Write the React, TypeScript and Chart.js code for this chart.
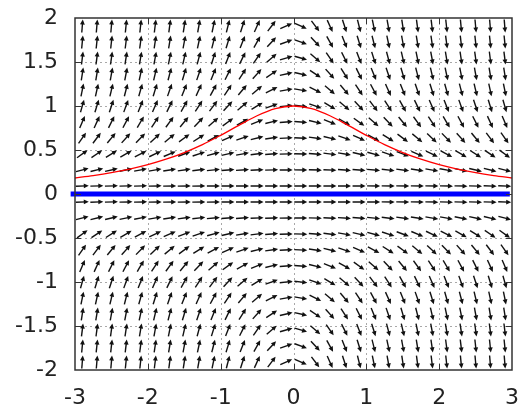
import { useEffect, useRef } from "react";
import { Chart, registerables } from "chart.js";

Chart.register(...registerables);

// Axis ranges and tick values
const xRange = [-3, 3];
const yRange = [-2, 2];
const xTickValues = [-3, -2, -1, 0, 1, 2, 3];
const yTickValues = [-2, -1.5, -1, -0.5, 0, 0.5, 1, 1.5, 2];
const xGridValues = [-2, -1, 0, 1, 2];
const yGridValues = [-1.5, -1, -0.5, 0, 0.5, 1, 1.5];

// Sample points of the direction field dy/dx = -x * y^2
const fieldX = [
  -2.9, -2.7, -2.5, -2.3, -2.1, -1.9, -1.7, -1.5, -1.3, -1.1,
  -0.9, -0.7, -0.5, -0.3, -0.1, 0.1, 0.3, 0.5, 0.7, 0.9,
  1.1, 1.3, 1.5, 1.7, 1.9, 2.1, 2.3, 2.5, 2.7, 2.9,
];
const fieldY = [
  -1.909, -1.727, -1.545, -1.364, -1.182, -1.0, -0.818, -0.636, -0.455, -0.273, -0.091,
  0.091, 0.273, 0.455, 0.636, 0.818, 1.0, 1.182, 1.364, 1.545, 1.727, 1.909,
];
const fieldSlope = (x: number, y: number) => -x * y * y;

// Equilibrium solution y = 0
const zeroSolX = [-3.06, 2.97];
const zeroSolY = [0, 0];

// Solution through (0, 1)
const curveX = [
  -3, -2.75, -2.5, -2.25, -2, -1.75, -1.5, -1.25, -1, -0.75, -0.5, -0.25, 0,
  0.25, 0.5, 0.75, 1, 1.25, 1.5, 1.75, 2, 2.25, 2.5, 2.75, 3,
];
const curveY = [
  0.182, 0.209, 0.242, 0.283, 0.333, 0.395, 0.471, 0.561, 0.667, 0.78, 0.889, 0.97, 1,
  0.97, 0.889, 0.78, 0.667, 0.561, 0.471, 0.395, 0.333, 0.283, 0.242, 0.209, 0.182,
];

const FONT = { family: "'DejaVu Sans', sans-serif", size: 22 };
const TEXT_COLOR = "#222";

const fieldPlugin = {
  id: "directionField",
  beforeDatasetsDraw(chart: any) {
    const { ctx, chartArea: a, scales } = chart;
    const xs = scales.x;
    const ys = scales.y;
    ctx.save();

    // dashed grid
    ctx.strokeStyle = "#a8a8a8";
    ctx.lineWidth = 1;
    ctx.setLineDash([2, 3]);
    for (const v of xGridValues) {
      const px = Math.round(xs.getPixelForValue(v)) + 0.5;
      ctx.beginPath();
      ctx.moveTo(px, a.top);
      ctx.lineTo(px, a.bottom);
      ctx.stroke();
    }
    for (const v of yGridValues) {
      const py = Math.round(ys.getPixelForValue(v)) + 0.5;
      ctx.beginPath();
      ctx.moveTo(a.left, py);
      ctx.lineTo(a.right, py);
      ctx.stroke();
    }
    ctx.setLineDash([]);

    // arrows of fixed screen length, centred on the sample points
    const sx = xs.getPixelForValue(1) - xs.getPixelForValue(0);
    const sy = ys.getPixelForValue(0) - ys.getPixelForValue(1);
    const L = 13;
    const head = 5;
    const hw = 2.4;
    ctx.strokeStyle = "#111";
    ctx.fillStyle = "#111";
    ctx.lineWidth = 1.4;
    for (const fx of fieldX) {
      for (const fy of fieldY) {
        const m = fieldSlope(fx, fy);
        const dx = sx;
        const dy = -m * sy;
        const n = Math.hypot(dx, dy);
        const ux = dx / n;
        const uy = dy / n;
        const cx = xs.getPixelForValue(fx);
        const cy = ys.getPixelForValue(fy);
        const tx = cx - (ux * L) / 2;
        const ty = cy - (uy * L) / 2;
        const hx = cx + (ux * L) / 2;
        const hy = cy + (uy * L) / 2;
        ctx.beginPath();
        ctx.moveTo(tx, ty);
        ctx.lineTo(hx - ux * head * 0.6, hy - uy * head * 0.6);
        ctx.stroke();
        const bx = hx - ux * head;
        const by = hy - uy * head;
        ctx.beginPath();
        ctx.moveTo(hx, hy);
        ctx.lineTo(bx - uy * hw, by + ux * hw);
        ctx.lineTo(bx + uy * hw, by - ux * hw);
        ctx.closePath();
        ctx.fill();
      }
    }
    ctx.restore();
  },
  afterDatasetsDraw(chart: any) {
    const { ctx, chartArea: a, scales } = chart;
    const xs = scales.x;
    const ys = scales.y;
    ctx.save();
    ctx.strokeStyle = "#333";
    ctx.lineWidth = 1.5;
    ctx.strokeRect(a.left, a.top, a.right - a.left, a.bottom - a.top);
    const t = 6;
    ctx.lineWidth = 1;
    ctx.beginPath();
    for (const v of xTickValues.slice(1, -1)) {
      const px = Math.round(xs.getPixelForValue(v)) + 0.5;
      ctx.moveTo(px, a.bottom);
      ctx.lineTo(px, a.bottom - t);
      ctx.moveTo(px, a.top);
      ctx.lineTo(px, a.top + t);
    }
    for (const v of yTickValues.slice(1, -1)) {
      const py = Math.round(ys.getPixelForValue(v)) + 0.5;
      ctx.moveTo(a.left, py);
      ctx.lineTo(a.left + t, py);
      ctx.moveTo(a.right, py);
      ctx.lineTo(a.right - t, py);
    }
    ctx.stroke();
    ctx.restore();
  },
};

export default function App() {
  const ref = useRef<HTMLCanvasElement | null>(null);

  useEffect(() => {
    if (!ref.current) return;
    const chart = new Chart(ref.current, {
      type: "scatter",
      data: {
        datasets: [
          {
            data: curveX.map((x, i) => ({ x, y: curveY[i] })),
            showLine: true,
            borderColor: "#ff0000",
            borderWidth: 1.3,
            pointRadius: 0,
            cubicInterpolationMode: "monotone",
          },
          {
            data: zeroSolX.map((x, i) => ({ x, y: zeroSolY[i] })),
            showLine: true,
            borderColor: "#0000ff",
            borderWidth: 5,
            pointRadius: 0,
            clip: 10,
          },
        ],
      },
      options: {
        animation: false,
        responsive: false,
        devicePixelRatio: 1,
        layout: { padding: { top: 18, right: 10, left: 0, bottom: 0 } },
        plugins: { legend: { display: false }, tooltip: { enabled: false } },
        scales: {
          x: {
            type: "linear",
            min: xRange[0],
            max: xRange[1],
            afterBuildTicks: (s: any) => {
              s.ticks = xTickValues.map((value) => ({ value }));
            },
            afterFit: (s: any) => {
              s.height = 43;
              s.paddingLeft = 0;
              s.paddingRight = 0;
            },
            ticks: {
              callback: (v: any) => String(v),
              font: FONT,
              color: TEXT_COLOR,
              padding: 15,
              maxRotation: 0,
            },
            grid: { display: false, drawTicks: false },
            border: { display: false },
          },
          y: {
            type: "linear",
            min: yRange[0],
            max: yRange[1],
            afterBuildTicks: (s: any) => {
              s.ticks = yTickValues.map((value) => ({ value }));
            },
            afterFit: (s: any) => {
              s.width = 75;
              s.paddingTop = 0;
              s.paddingBottom = 0;
            },
            ticks: {
              callback: (v: any) => String(v),
              font: FONT,
              color: TEXT_COLOR,
              padding: 17,
            },
            grid: { display: false, drawTicks: false },
            border: { display: false },
          },
        },
      },
      plugins: [fieldPlugin],
    } as any);
    return () => chart.destroy();
  }, []);

  return (
    <div style={{ position: "fixed", left: 0, top: 0, width: 522, height: 413, background: "#fff" }}>
      <canvas ref={ref} width={522} height={413} style={{ display: "block" }} />
    </div>
  );
}
